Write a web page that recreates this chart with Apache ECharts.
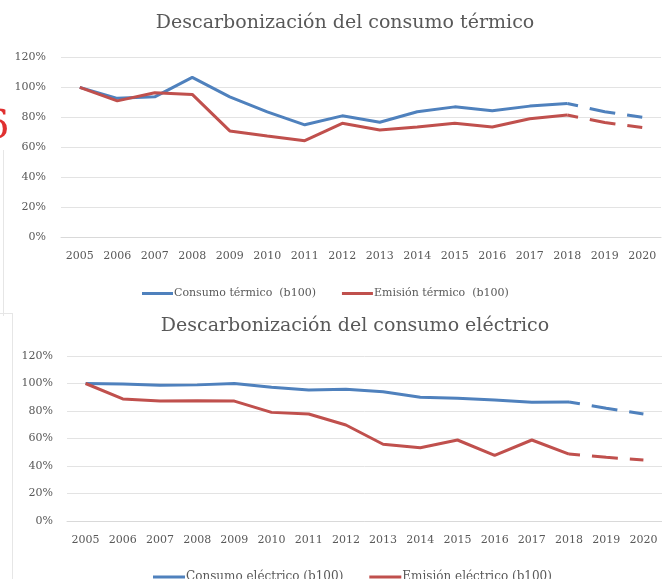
<!DOCTYPE html>
<html>
<head>
<meta charset="utf-8">
<script src="https://cdn.jsdelivr.net/npm/echarts@6/dist/echarts.min.js"></script>
<style>
  html, body { margin: 0; padding: 0; background: #fff; }
  #main { width: 662px; height: 579px; }
</style>
</head>
<body>
<div id="main"></div>
<script>
// años
var years = ["2005", "2006", "2007", "2008", "2009", "2010", "2011", "2012",
  "2013", "2014", "2015", "2016", "2017", "2018", "2019", "2020"];
var yTicks = ["0%", "20%", "40%", "60%", "80%", "100%", "120%"];

// consumo térmico (b100)
var consumoTermico = [100, 92.7, 93.7, 106.7, 93.7, 83.7, 75, 81, 76.7, 83.7, 87, 84.4, 87.5, 89.3, 83.7, 80];
var emisionTermico = [100, 91, 96.4, 95.3, 70.9, 67.5, 64.4, 76, 71.5, 73.5, 76, 73.5, 79, 81.5, 76.5, 73.2];
// consumo eléctrico (b100)
var consumoElectrico = [100, 99.6, 98.7, 99, 100, 97.2, 95.2, 95.8, 94, 90, 89.3, 88, 86.4, 86.6, 82, 77.8];
var emisionElectrico = [100, 88.8, 87.3, 87.5, 87.2, 79, 77.8, 69.8, 55.8, 53.3, 58.9, 47.8, 58.9, 48.7, 46.3, 44.4];

var lastReal = 13; // 2018, lo que sigue es previsión (discontinuo)

var BLUE = "#4f81bd";
var RED = "#c0504d";
var FONT = "DejaVu Serif";

function solid(arr) {
  return arr.map(function (v, i) { return i <= lastReal ? v : null; });
}
function dashed(arr) {
  return arr.map(function (v, i) { return i >= lastReal ? v : null; });
}

function xAxisCfg(gridIndex) {
  return {
    type: "category",
    gridIndex: gridIndex,
    data: years,
    boundaryGap: true,
    axisLine: { show: true, lineStyle: { color: "#d9d9d9", width: 1 } },
    axisTick: { show: false },
    axisLabel: { color: "#595959", fontFamily: FONT, fontSize: 11, margin: 14, interval: 0 }
  };
}
function yAxisCfg(gridIndex, margin) {
  return {
    type: "value",
    gridIndex: gridIndex,
    min: 0,
    max: 120,
    interval: 20,
    axisLine: { show: false },
    axisTick: { show: false },
    splitLine: { lineStyle: { color: "#e3e3e3", width: 1 } },
    axisLabel: {
      color: "#595959", fontFamily: FONT, fontSize: 11, margin: margin,
      formatter: function (v) { return yTicks[v / 20]; }
    }
  };
}
function lineSeries(name, data, color, xi, yi, isDashed) {
  return {
    name: name,
    type: "line",
    xAxisIndex: xi,
    yAxisIndex: yi,
    data: isDashed ? dashed(data) : solid(data),
    symbol: "none",
    connectNulls: false,
    animation: false,
    lineStyle: isDashed
      ? { color: color, width: 3, type: [26, 12], dashOffset: 15 }
      : { color: color, width: 3 },
    itemStyle: { color: color }
  };
}

var myChart = echarts.init(document.getElementById("main"));
var option = {
  backgroundColor: "#fff",
  animation: false,
  title: [
    {
      text: "Descarbonización del consumo térmico",
      left: 340, top: 9, textAlign: "center",
      textStyle: { fontFamily: FONT, fontWeight: "normal", fontSize: 19, color: "#595959" }
    },
    {
      text: "Descarbonización del consumo eléctrico",
      left: 350, top: 312, textAlign: "center",
      textStyle: { fontFamily: FONT, fontWeight: "normal", fontSize: 19, color: "#595959" }
    }
  ],
  legend: [
    {
      data: ["Consumo térmico  (b100)", "Emisión térmico  (b100)"],
      left: 137, top: 283,
      icon: "rect", itemWidth: 31, itemHeight: 3, itemGap: 26,
      textStyle: { fontFamily: FONT, fontSize: 11, color: "#595959", padding: [0, 0, 0, -4] }
    },
    {
      data: ["Consumo eléctrico (b100)", "Emisión eléctrico (b100)"],
      left: 148, top: 566,
      icon: "rect", itemWidth: 32, itemHeight: 3, itemGap: 26,
      textStyle: { fontFamily: FONT, fontSize: 12, color: "#595959", padding: [0, 0, 0, -4] }
    }
  ],
  grid: [
    { left: 61, right: 1, top: 57.5, height: 179.5 },
    { left: 67, right: -7, top: 356, height: 165 }
  ],
  xAxis: [xAxisCfg(0), xAxisCfg(1)],
  yAxis: [yAxisCfg(0, 15), yAxisCfg(1, 14)],
  series: [
    lineSeries("Consumo térmico  (b100)", consumoTermico, BLUE, 0, 0, false),
    lineSeries("Emisión térmico  (b100)", emisionTermico, RED, 0, 0, false),
    lineSeries("Consumo térmico previsión", consumoTermico, BLUE, 0, 0, true),
    lineSeries("Emisión térmico previsión", emisionTermico, RED, 0, 0, true),
    lineSeries("Consumo eléctrico (b100)", consumoElectrico, BLUE, 1, 1, false),
    lineSeries("Emisión eléctrico (b100)", emisionElectrico, RED, 1, 1, false),
    lineSeries("Consumo eléctrico previsión", consumoElectrico, BLUE, 1, 1, true),
    lineSeries("Emisión eléctrico previsión", emisionElectrico, RED, 1, 1, true)
  ],
  graphic: [
    // bordes de los paneles recortados
    { type: "line", shape: { x1: 3.5, y1: 150, x2: 3.5, y2: 316 }, style: { stroke: "#e6e6e6", lineWidth: 1 } },
    { type: "line", shape: { x1: 0, y1: 313.5, x2: 12, y2: 313.5 }, style: { stroke: "#e6e6e6", lineWidth: 1 } },
    { type: "line", shape: { x1: 12.5, y1: 313, x2: 12.5, y2: 579 }, style: { stroke: "#e6e6e6", lineWidth: 1 } },
    // resto de un carácter rojo al borde izquierdo
    { type: "text", left: -16, top: 108, style: { text: "6", fill: "#e03030", font: "40px " + FONT } }
  ]
};
myChart.setOption(option);
</script>
</body>
</html>
